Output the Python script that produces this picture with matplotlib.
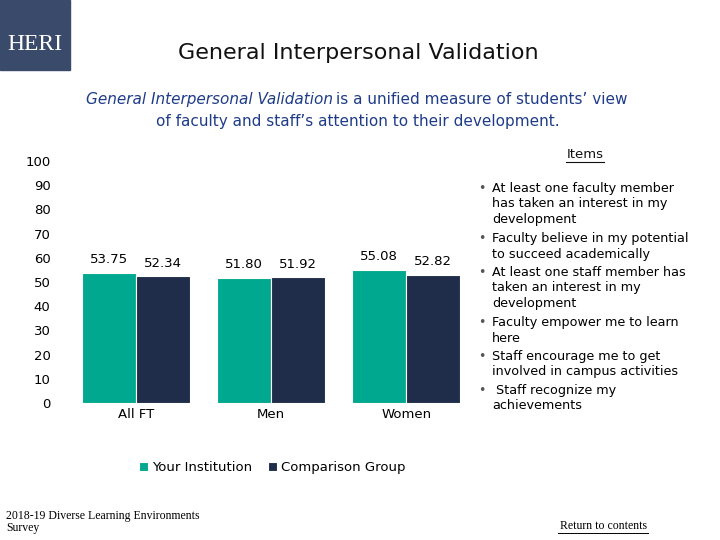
import matplotlib.pyplot as plt
import matplotlib.patches as mpatches

categories = ["All FT", "Men", "Women"]
your_inst = [53.75, 51.80, 55.08]
comparison = [52.34, 51.92, 52.82]
yticks = [0, 10, 20, 30, 40, 50, 60, 70, 80, 90, 100]
items = ["At least one faculty member\nhas taken an interest in my\ndevelopment",
         "Faculty believe in my potential\nto succeed academically",
         "At least one staff member has\ntaken an interest in my\ndevelopment",
         "Faculty empower me to learn\nhere",
         "Staff encourage me to get\ninvolved in campus activities",
         " Staff recognize my\nachievements"]

green = "#00A88F"
navy = "#1F2D4A"
W, H = 720, 540
fig = plt.figure(figsize=(7.2, 5.4), dpi=100)

def fx(x): return x / W
def fy(y): return 1 - y / H

fig.patches.append(mpatches.Rectangle((0, fy(70)), fx(70), 70 / H, transform=fig.transFigure, color="#3A4A6B"))
fig.text(fx(35), fy(44), "HERI", color="white", fontsize=17, family="Liberation Serif", ha="center", va="center")

fig.text(fx(358), fy(53), "General Interpersonal Validation", fontsize=16, ha="center", va="center", color="#111111")
t1 = fig.text(fx(86), fy(100), "General Interpersonal Validation", fontsize=11, style="italic", color="#1F3C88", ha="left", va="center")
fig.canvas.draw()
bb = t1.get_window_extent()
fig.text(bb.x1 / W + fx(3), fy(100), "is a unified measure of students\u2019 view", fontsize=11, color="#1F3C88", ha="left", va="center")
fig.text(fx(358), fy(122), "of faculty and staff\u2019s attention to their development.", fontsize=11, color="#1F3C88", ha="center", va="center")

ax = fig.add_axes([fx(70), fy(403), (475 - 70) / W, (403 - 161) / H])
x = list(range(len(categories)))
w = 0.4
ax.bar([i - w / 2 for i in x], your_inst, w, color=green, edgecolor="white", linewidth=0.8, label="Your Institution")
ax.bar([i + w / 2 for i in x], comparison, w, color=navy, edgecolor="white", linewidth=0.8, label="Comparison Group")
for i in x:
    ax.text(i - w / 2, your_inst[i] + 5.5, f"{your_inst[i]:.2f}", ha="center", va="center", fontsize=9.5)
    ax.text(i + w / 2, comparison[i] + 5.5, f"{comparison[i]:.2f}", ha="center", va="center", fontsize=9.5)
ax.set_xlim(-0.49, 2.51)
ax.set_ylim(0, 100)
ax.set_yticks(yticks)
ax.set_xticks(x)
ax.set_xticklabels(categories, fontsize=9.5)
ax.tick_params(length=0, labelsize=9.5)
ax.tick_params(axis="y", pad=14)
for s in ax.spines.values():
    s.set_visible(False)
ax.legend(loc="upper center", bbox_to_anchor=(0.5, -0.19), ncol=2, frameon=False, fontsize=9.5,
          handlelength=0.7, handleheight=0.7, columnspacing=1.2, handletextpad=0.3)

fig.text(fx(585), fy(155), "Items", fontsize=9.5, ha="center", va="center", color="#111111")
fig.lines.append(plt.Line2D([fx(566), fx(604)], [fy(162), fy(162)], transform=fig.transFigure, color="#111111", lw=0.8))
y = 182
for it in items:
    n = it.count("\n") + 1
    fig.text(fx(478), fy(y), "\u2022", fontsize=9, va="top", color="#555555")
    fig.text(fx(492), fy(y), it, fontsize=9.2, va="top", linespacing=1.25)
    y += n * 16.8
fig.text(fx(6), fy(522), "2018-19 Diverse Learning Environments\nSurvey", fontsize=8.5, family="Liberation Serif", va="center", ha="left", linespacing=1.1)
fig.text(fx(603), fy(526), "Return to contents", fontsize=8.5, family="Liberation Serif", va="center", ha="center")
fig.lines.append(plt.Line2D([fx(558), fx(648)], [fy(533), fy(533)], transform=fig.transFigure, color="black", lw=0.7))

fig.savefig("out.png")
